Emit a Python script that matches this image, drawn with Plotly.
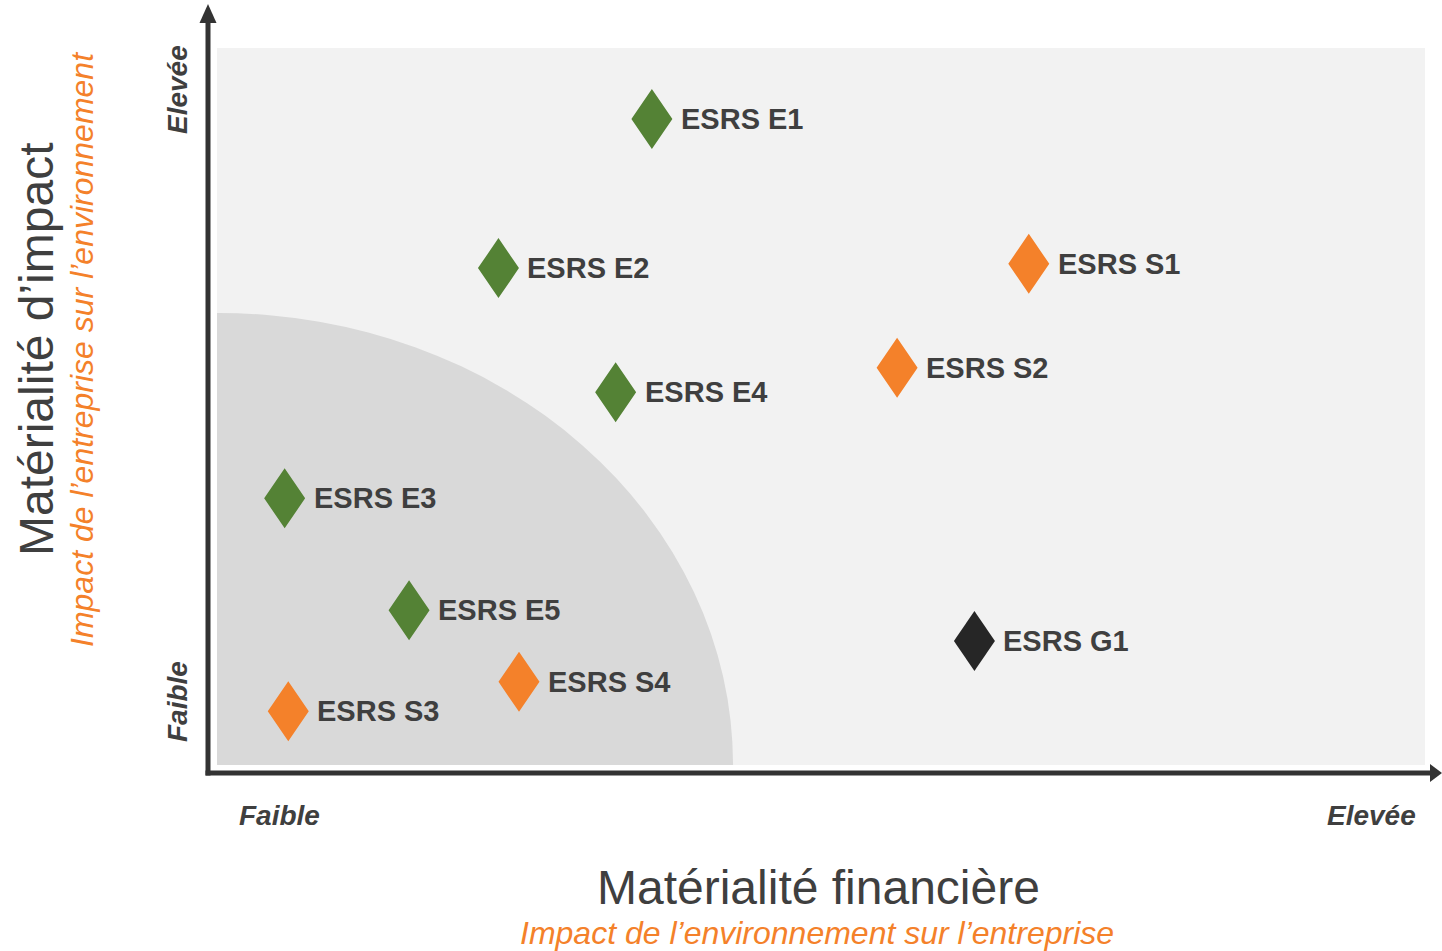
import plotly.graph_objects as go

# ---------------- data ----------------
labels = ["ESRS E1", "ESRS E2", "ESRS E3", "ESRS E4", "ESRS E5",
          "ESRS S1", "ESRS S2", "ESRS S3", "ESRS S4", "ESRS G1"]
groups = ["E", "E", "E", "E", "E", "S", "S", "S", "S", "G"]
fin_materiality = [3.60, 2.33, 0.56, 3.30, 1.59, 6.72, 5.63, 0.59, 2.50, 6.27]
impact_materiality = [9.01, 6.93, 3.72, 5.20, 2.16, 6.99, 5.54, 0.75, 1.16, 1.73]

x_title = "Matérialité financière"
x_subtitle = "Impact de l’environnement sur l’entreprise"
y_title = "Matérialité d’impact"
y_subtitle = "Impact de l’entreprise sur l’environnement"
scale_low = "Faible"
scale_high = "Elevée"

# ---------------- style ----------------
W, H = 1442, 951
L, R, T, B = 217, 17, 48, 186
XMAX, YMAX = 10, 10
px_x = (W - L - R) / XMAX
px_y = (H - T - B) / YMAX

colors = {"E": "#548235", "S": "#F4812A", "G": "#262626"}
text_col = "#3F3F3F"
axis_col = "#333333"
FONT = "Arial, Liberation Sans, sans-serif"

half_w = 20.5 / px_x   # diamond half width in data units
half_h = 30.0 / px_y   # diamond half height in data units

# low-materiality zone (quarter ellipse) radii in data units
zone_rx = 514 / px_x
zone_ry = 452 / px_y

fig = go.Figure()

for g in ["E", "S", "G"]:
    xs, ys = [], []
    for xi, yi, gi in zip(fin_materiality, impact_materiality, groups):
        if gi != g:
            continue
        xs += [xi, xi + half_w, xi, xi - half_w, xi, None]
        ys += [yi + half_h, yi, yi - half_h, yi, yi + half_h, None]
    fig.add_trace(go.Scatter(x=xs, y=ys, mode="lines", fill="toself",
                             fillcolor=colors[g], line=dict(width=0, color=colors[g]),
                             hoverinfo="skip", showlegend=False))

for lab, xi, yi in zip(labels, fin_materiality, impact_materiality):
    fig.add_annotation(x=xi, y=yi, xref="x", yref="y", text=f"<b>{lab}</b>",
                       showarrow=False, xanchor="left", yanchor="middle", xshift=27,
                       font=dict(family=FONT, size=29, color=text_col))

# quarter ellipse zone
fig.add_shape(type="circle", xref="x", yref="y",
              x0=-zone_rx + 0.017, x1=zone_rx + 0.017, y0=-zone_ry, y1=zone_ry,
              fillcolor="#D9D9D9", line=dict(width=0), layer="below")

# axes with arrows (paper coordinates)
def px2paper_x(p):
    return (p - L) / (W - L - R)

def px2paper_y(p):
    return (H - B - p) / (H - T - B)

ax_x = 208
ax_y = 773
fig.add_shape(type="line", xref="paper", yref="paper",
              x0=px2paper_x(ax_x), x1=px2paper_x(ax_x),
              y0=px2paper_y(ax_y + 2.5), y1=px2paper_y(20),
              line=dict(color=axis_col, width=5))
fig.add_shape(type="line", xref="paper", yref="paper",
              x0=px2paper_x(ax_x - 2.5), x1=px2paper_x(1432),
              y0=px2paper_y(ax_y), y1=px2paper_y(ax_y),
              line=dict(color=axis_col, width=5))

def tri(pts):
    d = "M " + " L ".join(f"{px2paper_x(a)},{px2paper_y(b)}" for a, b in pts) + " Z"
    return d

fig.add_shape(type="path", xref="paper", yref="paper",
              path=tri([(ax_x, 4), (ax_x + 8.5, 23), (ax_x - 8.5, 23)]),
              fillcolor=axis_col, line=dict(width=0))
fig.add_shape(type="path", xref="paper", yref="paper",
              path=tri([(1442, ax_y), (1430, ax_y - 9), (1430, ax_y + 9)]),
              fillcolor=axis_col, line=dict(width=0))

# axis titles
fig.add_annotation(x=px2paper_x(818), y=px2paper_y(887), xref="paper", yref="paper",
                   text=x_title, showarrow=False, xanchor="center", yanchor="middle",
                   font=dict(family=FONT, size=48, color=text_col))
fig.add_annotation(x=px2paper_x(817), y=px2paper_y(933), xref="paper", yref="paper",
                   text=f"<i>{x_subtitle}</i>", showarrow=False, xanchor="center", yanchor="middle",
                   font=dict(family=FONT, size=32, color="#F4812A"))
fig.add_annotation(x=px2paper_x(36), y=px2paper_y(350), xref="paper", yref="paper",
                   text=y_title, showarrow=False, xanchor="center", yanchor="middle",
                   textangle=-90, font=dict(family=FONT, size=48, color=text_col))
fig.add_annotation(x=px2paper_x(82), y=px2paper_y(350), xref="paper", yref="paper",
                   text=f"<i>{y_subtitle}</i>", showarrow=False, xanchor="center", yanchor="middle",
                   textangle=-90, font=dict(family=FONT, size=32, color="#F4812A"))

# scale labels
scale_font = dict(family=FONT, size=28, color=text_col)
for txt, xp, yp, ang in [(scale_low, 279, 815, 0), (scale_high, 1371, 815, 0),
                         (scale_low, 177, 702, -90), (scale_high, 177, 90, -90)]:
    fig.add_annotation(x=px2paper_x(xp), y=px2paper_y(yp), xref="paper", yref="paper",
                       text=f"<b><i>{txt}</i></b>", showarrow=False, textangle=ang,
                       xanchor="center", yanchor="middle", font=scale_font)

fig.update_xaxes(range=[0, XMAX], showgrid=False, zeroline=False, showticklabels=False,
                 showline=False, ticks="", fixedrange=True)
fig.update_yaxes(range=[0, YMAX], showgrid=False, zeroline=False, showticklabels=False,
                 showline=False, ticks="", fixedrange=True)
fig.update_layout(width=W, height=H, margin=dict(l=L, r=R, t=T, b=B),
                  plot_bgcolor="#F2F2F2", paper_bgcolor="white", showlegend=False,
                  font=dict(family=FONT))

fig.write_html("out.html", config={"displayModeBar": False},
               post_script="document.body.style.margin='0';document.body.style.overflow='hidden';")
